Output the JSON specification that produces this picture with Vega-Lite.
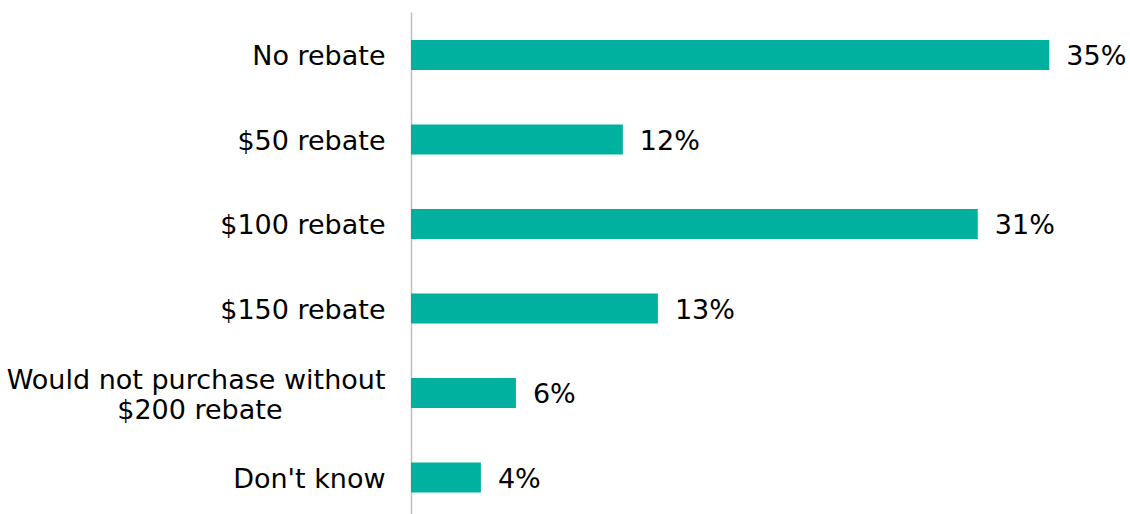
{
  "$schema": "https://vega.github.io/schema/vega-lite/v6.json",
  "autosize": "none",
  "padding": {"left": 411, "top": 12, "right": 22, "bottom": 0},
  "width": 697,
  "height": 502,
  "background": "white",
  "config": {"view": {"stroke": null}},
  "data": {
    "values": [
      {"category": "No rebate", "value": 34.8, "label": "35%"},
      {"category": "$50 rebate", "value": 11.55, "label": "12%"},
      {"category": "$100 rebate", "value": 30.9, "label": "31%"},
      {"category": "$150 rebate", "value": 13.46, "label": "13%"},
      {"category": "Would not purchase without $200 rebate", "value": 5.72, "label": "6%"},
      {"category": "Don't know", "value": 3.81, "label": "4%"}
    ]
  },
  "encoding": {
    "y": {
      "field": "category",
      "type": "nominal",
      "sort": null,
      "scale": {"paddingInner": 0.645, "paddingOuter": 0.293, "align": 0.566},
      "axis": {
        "title": null,
        "ticks": false,
        "domainColor": "#BFBFBF",
        "domainWidth": 1.5,
        "labelPadding": 26,
        "labelOffset": 2,
        "labelFont": "DejaVu Sans",
        "labelFontSize": 27,
        "labelColor": "#000000",
        "labelLimit": 0,
        "labelLineHeight": 30,
        "labelBaseline": {"condition": {"test": "datum.value == 'Would not purchase without $200 rebate'", "value": "bottom"}, "value": "middle"},
        "labelExpr": "datum.value == 'Would not purchase without $200 rebate' ? ['Would not purchase without', '$200 rebate\u00a0\u00a0\u00a0\u00a0\u00a0\u00a0\u00a0\u00a0\u00a0\u00a0\u00a0\u00a0\u200b'] : datum.value"
      }
    },
    "x": {
      "field": "value",
      "type": "quantitative",
      "scale": {"domain": [0, 38], "nice": false},
      "axis": null
    }
  },
  "layer": [
    {"mark": {"type": "bar", "color": "#00B1A0"}},
    {
      "mark": {"type": "text", "align": "left", "baseline": "middle", "dx": 17, "dy": 2, "font": "DejaVu Sans", "fontSize": 27, "color": "#000000"},
      "encoding": {"text": {"field": "label"}}
    }
  ]
}
